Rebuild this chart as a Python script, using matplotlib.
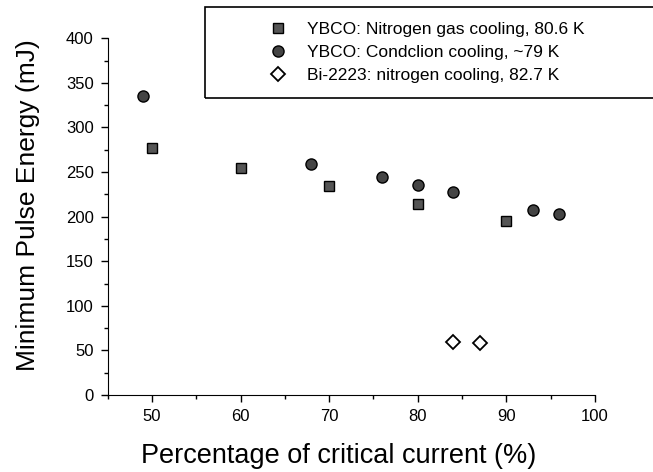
import matplotlib
matplotlib.use("Agg")
import matplotlib.pyplot as plt
from matplotlib.patches import Rectangle
from matplotlib.ticker import MultipleLocator

plt.rcParams['font.family'] = ['Liberation Sans', 'DejaVu Sans']

# YBCO, nitrogen gas cooling
n2_x = [50, 60, 70, 80, 90]
n2_y = [277, 254, 234, 214, 195]
# YBCO, conduction cooling
cond_x = [49, 68, 76, 80, 84, 93, 96]
cond_y = [335, 259, 245, 236, 228, 208, 203]
# Bi-2223, nitrogen cooling
bi_x = [84, 87]
bi_y = [60, 58]

labels = ['YBCO: Nitrogen gas cooling, 80.6 K',
          'YBCO: Condclion cooling, ~79 K',
          'Bi-2223: nitrogen cooling, 82.7 K']

fig = plt.figure(figsize=(6.53, 4.72), dpi=100)
ax = fig.add_axes([0.165, 0.163, 0.746, 0.756])

ax.plot(n2_x, n2_y, 's', ms=7, mfc='#555555', mec='black', mew=1, label=labels[0])
ax.plot(cond_x, cond_y, 'o', ms=8, mfc='#444444', mec='black', mew=1, label=labels[1])
ax.plot(bi_x, bi_y, 'D', ms=7.5, mfc='white', mec='black', mew=1.3, label=labels[2])

ax.set_xlim(45, 100)
ax.set_ylim(0, 400)
ax.xaxis.set_major_locator(MultipleLocator(10))
ax.xaxis.set_minor_locator(MultipleLocator(5))
ax.yaxis.set_major_locator(MultipleLocator(50))
ax.yaxis.set_minor_locator(MultipleLocator(25))
ax.spines['top'].set_visible(False)
ax.spines['right'].set_visible(False)
ax.tick_params(which='both', direction='out', width=1)
ax.tick_params(which='major', length=5, labelsize=12, pad=5)
ax.tick_params(which='minor', length=3)

ax.set_xlabel('Percentage of critical current (%)', fontsize=19.5)
ax.set_ylabel('Minimum Pulse Energy (mJ)', fontsize=19)
ax.xaxis.set_label_coords(0.474, -0.135)
ax.yaxis.set_label_coords(-0.14, 0.532)

# legend frame runs off the right edge of the figure
fig.patches.append(Rectangle((205 / 653, 1 - 98 / 472), 0.7, 91 / 472,
                             transform=fig.transFigure, fill=False,
                             edgecolor='black', linewidth=1.2))
leg = fig.legend(loc='upper left', bbox_to_anchor=(269 / 653, 1 - 22 / 472),
                 fontsize=12.5, frameon=False, handletextpad=1.2,
                 labelspacing=0.45, handlelength=1.0, borderpad=0,
                 borderaxespad=0)

fig.savefig('out.png', dpi=100)
